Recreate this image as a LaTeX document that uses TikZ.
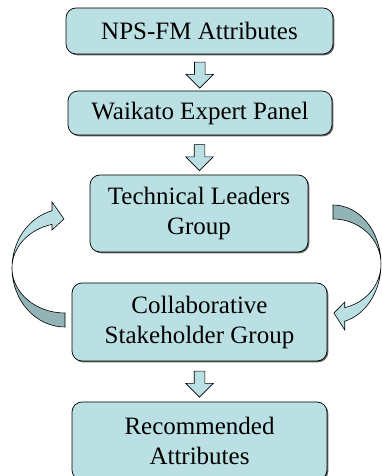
\documentclass[tikz,border=0pt]{standalone}
\usepackage{fontspec}
\setmainfont{Liberation Serif}
\usetikzlibrary{calc,shapes.arrows,shadows}
\definecolor{boxfill}{HTML}{BBE0E3}
\definecolor{backfill}{HTML}{93B4B6}
\newcommand{\radx}{53}
\newcommand{\outr}{59}
\newcommand{\inr}{45}

\begin{document}
\begin{tikzpicture}[x=1pt,y=1pt,
  stage/.style={draw=black, line width=0.7pt, fill=boxfill, rounded corners=10pt,
    align=center, font=\fontsize{25}{30}\selectfont, inner sep=0pt,
    drop shadow={shadow xshift=1.3pt, shadow yshift=-1.3pt, fill=black!60, opacity=1}},
  downarrow/.style={single arrow, rotate=-90, draw=black, line width=0.6pt, fill=boxfill,
    minimum height=26pt, inner sep=5pt, single arrow head extend=8.5pt, single arrow head indent=0pt},
  face/.style={draw=black, line width=0.6pt, fill=boxfill},
  backface/.style={draw=black, line width=0.6pt, fill=backfill}]
\useasboundingbox (0,0) rectangle (381,476);
\clip (0,0) rectangle (381,476);
\node[stage, minimum width=267pt, minimum height=46pt] (attr) at (199.5,445) {NPS-FM Attributes};
\node[stage, minimum width=264pt, minimum height=44pt] (panel) at (200,363) {Waikato Expert Panel};
\node[stage, minimum width=218pt, minimum height=77pt] (tlg) at (199,262.5) {Technical Leaders\\Group};
\node[stage, minimum width=255pt, minimum height=78pt] (csg) at (199.5,154) {Collaborative\\Stakeholder Group};
\node[stage, minimum width=255pt, minimum height=78pt] (rec) at (199.5,35) {Recommended\\Attributes};
% block arrows between the stages
\node[downarrow] (a1) at ($(attr.south)!0.5!(panel.north)$) {};
\node[downarrow] (a2) at ($(panel.south)!0.5!(tlg.north)$) {};
\node[downarrow] (a3) at ($(csg.south)!0.5!(rec.north)$) {};
% curved arrow on the left, csg -> tlg
\begin{scope}[shift={(65,208)}]
\draw[backface] (0,-\inr) arc[start angle=270, end angle=180, x radius=\radx, y radius=\inr]
  arc[start angle=180, end angle=270, x radius=\radx, y radius=\outr] -- cycle;
\draw[face] (-13,57.2) arc[start angle=104.2, end angle=180, x radius=\radx, y radius=\outr]
  arc[start angle=180, end angle=104.2, x radius=\radx, y radius=\inr]
  -- (-13,38) -- (-1,49) -- (-13,66) -- cycle;
\end{scope}
% curved arrow on the right, tlg -> csg
\begin{scope}[shift={(333,212)}, rotate=180, xscale=0.906]
\draw[backface] (0,-\inr) arc[start angle=270, end angle=180, x radius=\radx, y radius=\inr]
  arc[start angle=180, end angle=270, x radius=\radx, y radius=\outr] -- cycle;
\draw[face] (-13,57.2) arc[start angle=104.2, end angle=180, x radius=\radx, y radius=\outr]
  arc[start angle=180, end angle=104.2, x radius=\radx, y radius=\inr]
  -- (-13,38) -- (-1,49) -- (-13,66) -- cycle;
\end{scope}
\end{tikzpicture}
\end{document}
